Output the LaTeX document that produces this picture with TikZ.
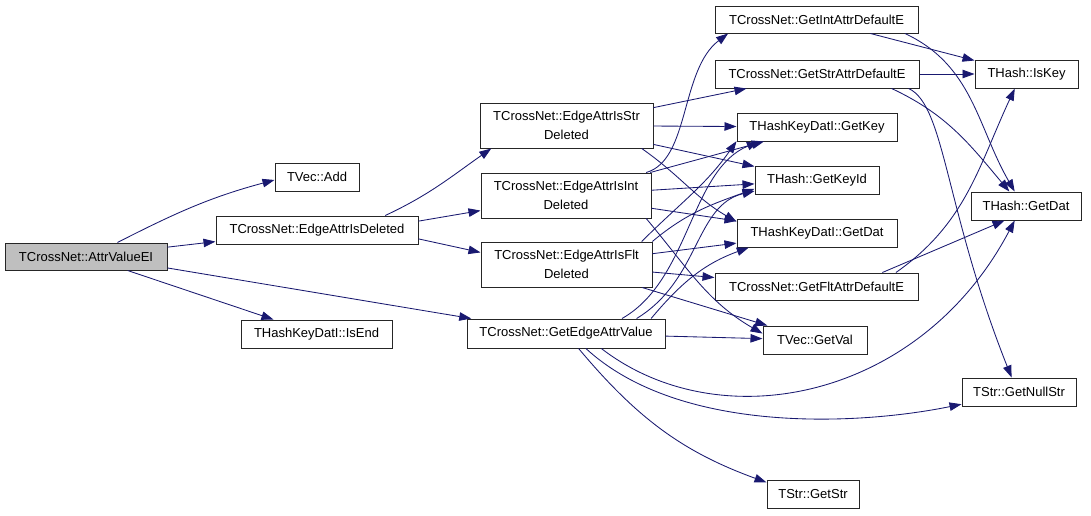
\documentclass[tikz,border=0pt]{standalone}
\usepackage{fontspec}
\setmainfont{Liberation Sans}
\usetikzlibrary{arrows.meta}
\definecolor{cEdge}{RGB}{25,25,112}
\definecolor{cRoot}{RGB}{191,191,191}
\tikzset{
	fnbox/.style={draw=black!85, line width=1pt, fill=white, inner sep=0pt,
		minimum height=28pt, align=center, font=\fontsize{13}{19}\selectfont},
	fnroot/.style={fnbox, fill=cRoot},
	fntall/.style={fnbox, minimum height=45pt},
	call/.style={-{Triangle[length=12pt,width=8.5pt]}, line width=0.85pt,
		draw=cEdge},
}
\begin{document}
\begin{tikzpicture}[x=1pt,y=1pt]
	\useasboundingbox (0,0) rectangle (1091,-515);
	% functions
	\node[fnroot, minimum width=162pt, minimum height=27pt] (attr) at (86,-256.5) {TCrossNet::AttrValueEI};
	\node[fnbox, minimum width=84pt] (add) at (317,-177) {TVec::Add};
	\node[fnbox, minimum width=202pt] (isdel) at (317,-230) {TCrossNet::EdgeAttrIsDeleted};
	\node[fnbox, minimum width=151pt] (isend) at (316.5,-334) {THashKeyDatI::IsEnd};
	\node[fntall, minimum width=173pt] (strdel) at (566.5,-125.5) {TCrossNet::EdgeAttrIsStr\\Deleted};
	\node[fntall, minimum width=170pt] (intdel) at (566,-195.5) {TCrossNet::EdgeAttrIsInt\\Deleted};
	\node[fntall, minimum width=171pt] (fltdel) at (566.5,-264.5) {TCrossNet::EdgeAttrIsFlt\\Deleted};
	\node[fnbox, minimum width=198pt, minimum height=29pt] (geav) at (566,-333.5) {TCrossNet::GetEdgeAttrValue};
	\node[fnbox, minimum width=203pt, minimum height=27pt] (intdef) at (816.5,-19.5) {TCrossNet::GetIntAttrDefaultE};
	\node[fnbox, minimum width=204pt] (strdef) at (817,-74) {TCrossNet::GetStrAttrDefaultE};
	\node[fnbox, minimum width=160pt] (getkey) at (817,-127) {THashKeyDatI::GetKey};
	\node[fnbox, minimum width=124pt] (getkeyid) at (817,-180) {THash::GetKeyId};
	\node[fnbox, minimum width=160pt] (kdgetdat) at (817,-233) {THashKeyDatI::GetDat};
	\node[fnbox, minimum width=203pt, minimum height=27pt] (fltdef) at (816.5,-286.5) {TCrossNet::GetFltAttrDefaultE};
	\node[fnbox, minimum width=104pt] (getval) at (815,-340) {TVec::GetVal};
	\node[fnbox, minimum width=92pt] (getstr) at (813,-494) {TStr::GetStr};
	\node[fnbox, minimum width=103pt] (iskey) at (1026.5,-74) {THash::IsKey};
	\node[fnbox, minimum width=110pt] (hgetdat) at (1026,-206) {THash::GetDat};
	\node[fnbox, minimum width=114pt] (nullstr) at (1019,-392) {TStr::GetNullStr};
	% calls from AttrValueEI
	\draw[call] (attr.24) to[out=27,in=195] (add.184);
	\draw[call] (attr) -- (isdel);
	\draw[call] (attr) -- (isend);
	\draw[call] (attr.-8) -- (geav.171);
	% calls from EdgeAttrIsDeleted
	\draw[call] (isdel.12) to[out=25,in=215] (strdel.197);
	\draw[call] (isdel.5) -- (intdel.190);
	\draw[call] (isdel.-5) -- (fltdel.172);
	% EdgeAttrIsStrDeleted
	\draw[call] (strdel) -- (strdef);
	\draw[call] (strdel) -- (getkey);
	\draw[call] (strdel) -- (getkeyid);
	\draw[call] (strdel.-17) to[out=-35,in=150] (kdgetdat.172);
	% EdgeAttrIsIntDeleted
	\draw[call] (intdel.16) .. controls (690,-160) and (680,-70) .. (intdef.189);
	\draw[call] (intdel) -- (getkey);
	\draw[call] (intdel) -- (getkeyid);
	\draw[call] (intdel) -- (kdgetdat);
	\draw[call] (intdel.-16) to[out=-50,in=150] (getval.173);
	% EdgeAttrIsFltDeleted
	\draw[call] (fltdel.17) to[out=45,in=235] (getkey.190);
	\draw[call] (fltdel.15) to[out=40,in=200] (getkeyid.188);
	\draw[call] (fltdel) -- (kdgetdat);
	\draw[call] (fltdel) -- (fltdef);
	\draw[call] (fltdel) -- (getval);
	% GetEdgeAttrValue
	\draw[call] (geav.15) .. controls (690,-280) and (690,-170) .. (getkey.194);
	\draw[call] (geav.12) .. controls (700,-280) and (695,-205) .. (getkeyid.190);
	\draw[call] (geav.10) to[out=50,in=200] (kdgetdat.192);
	\draw[call] (geav) -- (getval);
	\draw[call] (geav.-23) .. controls (720,-440) and (920,-400) .. (hgetdat.232);
	\draw[call] (geav.-37) .. controls (680,-435) and (860,-425) .. (nullstr.192);
	\draw[call] (geav.-50) to[out=-50,in=160] (getstr.166);
	% default value lookups
	\draw[call] (intdef) -- (iskey);
	\draw[call] (intdef.-9) to[out=-25,in=120] (hgetdat.128);
	\draw[call] (strdef) -- (iskey);
	\draw[call] (strdef.-11) to[out=-25,in=130] (hgetdat.139);
	\draw[call] (strdef.-9) .. controls (945,-105) and (945,-210) .. (nullstr.117);
	\draw[call] (fltdef.10) to[out=35,in=245] (iskey.231);
	\draw[call] (fltdef.12) -- (hgetdat.214);
\end{tikzpicture}
\end{document}
